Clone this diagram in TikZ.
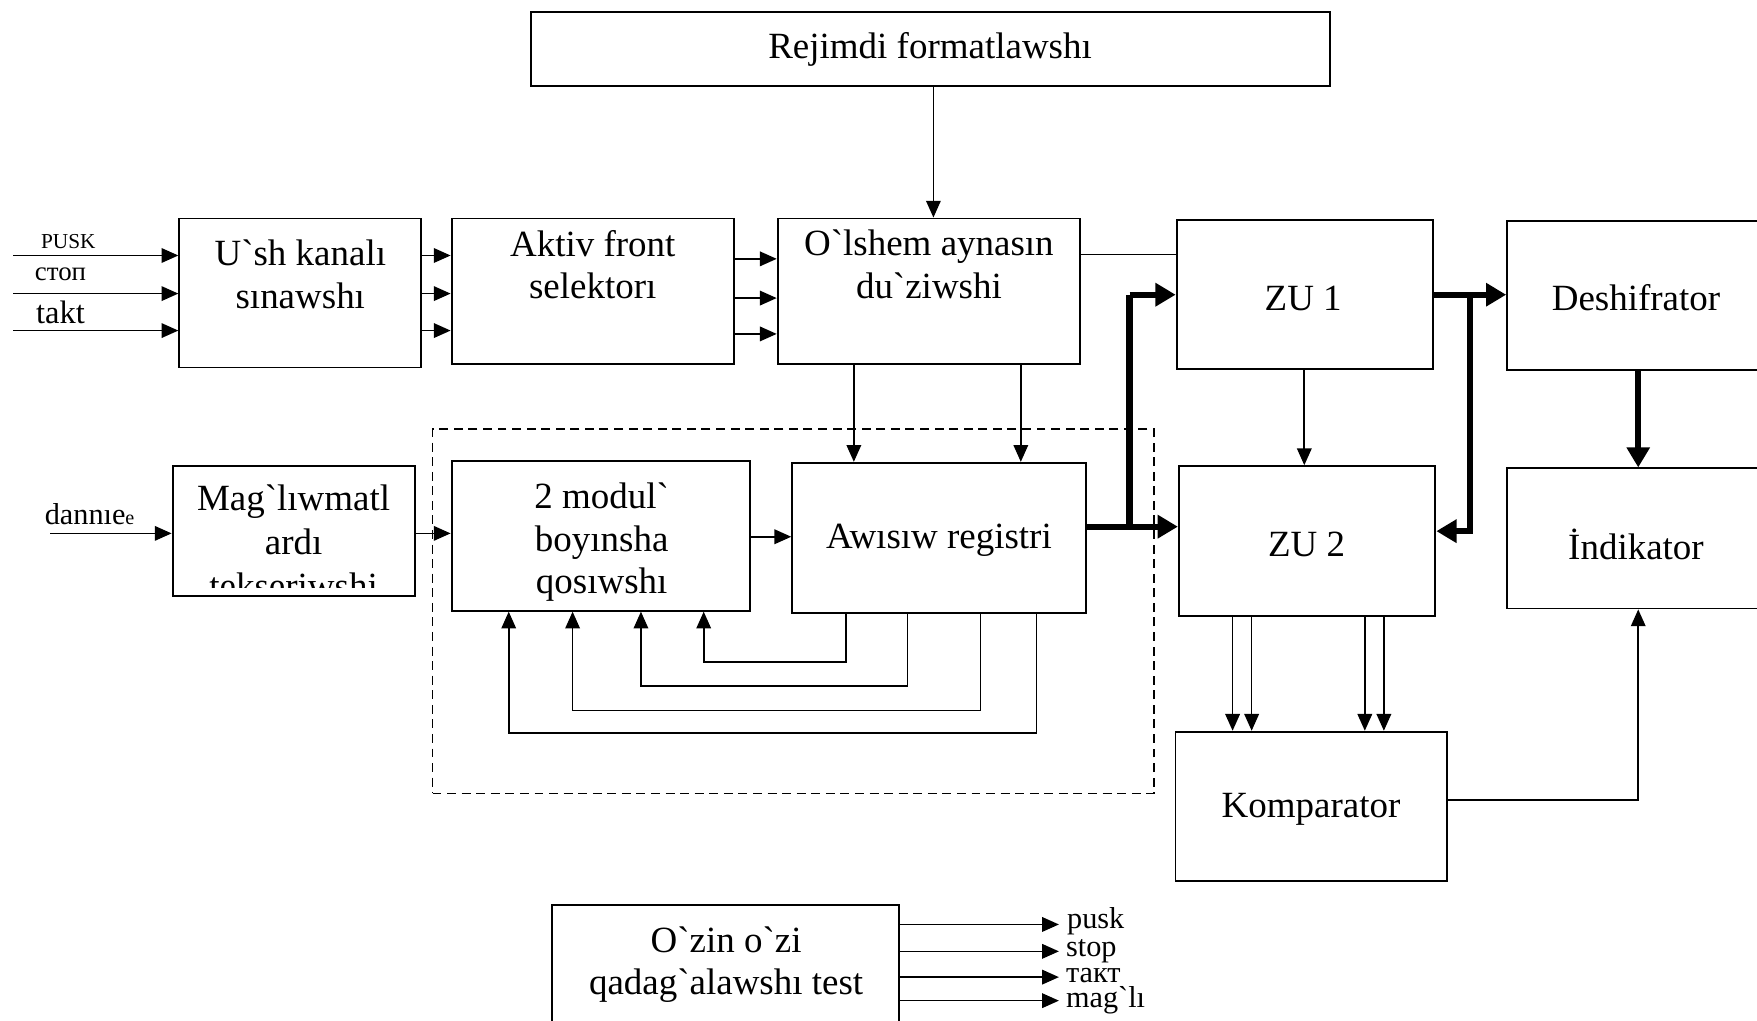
\documentclass[tikz,border=0pt]{standalone}
\usepackage{fontspec}
\setmainfont{Liberation Serif}[Ligatures=TeXOff]
\usetikzlibrary{arrows.meta,fit}

\begin{document}
\begin{tikzpicture}[x=0.5pt,y=-0.5pt,
  box/.style={draw, line width=0.85pt, inner sep=0pt},
  grpbox/.style={draw, line width=0.7pt, dash pattern=on 4pt off 2.5pt, inner sep=0pt},
  txt/.style={align=center, inner sep=0pt, font=\fontsize{16.5}{19}\selectfont},
  ln/.style={line width=0.75pt},
  arr/.style={ln, -{Triangle[length=7.5pt,width=6.5pt]}},
  bus/.style={line width=2.7pt},
  busarr/.style={bus, -{Triangle[length=9pt,width=10pt]}},
  sig/.style={inner sep=0pt, anchor=base west, font=\fontsize{13.5}{13.5}\selectfont}
]
\clip (0,0) rectangle (1568,911);
\fill[white] (0,0) rectangle (1568,911);

% ---- blocks ----
\node[box, fit={(474,11) (1187,77)}] (rej) {};
\node[txt] (rejT) at (830,44) {Rejimdi formatlawshı};

\node[box, fit={(160,195) (376,328)}] (ush) {};
\node[txt] (ushT) at (268,245) {U`sh kanalı\\sınawshı};

\node[box, fit={(403,195) (655,325)}] (akt) {};
\node[txt] (aktT) at (529,236) {Aktiv front\\selektorı};

\node[box, fit={(694,195) (964,325)}] (ols) {};
\node[txt] (olsT) at (829,236) {O`lshem aynasın\\du`ziwshi};

\node[box, fit={(1050,196) (1279,329)}] (zu1) {};
\node[txt] (zu1T) at (1163,266) {ZU 1};

\node[box, fit={(1345,197) (1620,330)}] (desh) {};
\node[txt] (deshT) at (1460,266) {Deshifrator};

\node[grpbox, fit={(386,383) (1030,708)}] (grp) {};

\node[box, fit={(154,416) (370,532)}] (mag) {};
\begin{scope}
  \clip (156,418) rectangle (368,524);
  \node[txt, anchor=base] (magT1) at (262,456) {Mag`lıwmatl};
  \node[txt, anchor=base] (magT2) at (262,495) {ardı};
  \node[txt, anchor=base] (magT3) at (262,534) {tekseriwshi};
\end{scope}

\node[box, fit={(403,411) (669,545)}] (mod) {};
\node[txt] (modT) at (537,484) {2 modul`\\boyınsha\\qosıwshı};

\node[box, fit={(707,413) (969,547)}] (awi) {};
\node[txt] (awiT) at (838,482) {Awısıw registri};

\node[box, fit={(1052,416) (1281,550)}] (zu2) {};
\node[txt] (zu2T) at (1166,486) {ZU 2};

\node[box, fit={(1345,418) (1620,543)}] (ind) {};
\node[txt] (indT) at (1460,486) {İndikator};

\node[box, fit={(1049,653) (1291,786)}] (kom) {};
\node[txt] (komT) at (1170,722) {Komparator};

\node[box, fit={(493,808) (802,960)}] (self) {};
\node[txt] (selfT) at (648,861) {O`zin o`zi\\qadag`alawshı test};

% ---- external inputs ----
\coordinate (in1) at (12,228);
\coordinate (in2) at (12,262);
\coordinate (in3) at (12,295);
\draw[arr] (in1) -- (ush.west |- in1);
\draw[arr] (in2) -- (ush.west |- in2);
\draw[arr] (in3) -- (ush.west |- in3);
\node[inner sep=0pt, font=\fontsize{9.5}{10}\selectfont] (lpusk) at (61,216) {PUSK};
\node[inner sep=0pt, font=\fontsize{12}{12}\selectfont] (lstop) at (54,245) {стоп};
\node[inner sep=0pt, font=\fontsize{14.5}{15}\selectfont] (ltakt) at (54,279) {takt};

\coordinate (ind0) at (45,476);
\draw[arr] (ind0) -- (mag.west |- ind0);
\node[inner sep=0pt, font=\fontsize{13.5}{14}\selectfont] (ldan) at (80,459) {dannıe{\fontsize{9}{9}\selectfont e}};

% ---- upper chain ----
\foreach \y in {228,262,295} \draw[arr] (ush.east |- 0,\y) -- (akt.west |- 0,\y);
\foreach \y in {231,266,298} \draw[arr] (akt.east |- 0,\y) -- (ols.west |- 0,\y);
\draw[arr] (rej.south -| 833,0) -- (ols.north -| 833,0);
\draw[ln] (ols.east |- 0,227) -- (zu1.west |- 0,227);
\draw[arr] (ols.south -| 762,0) -- (awi.north -| 762,0);
\draw[arr] (ols.south -| 911,0) -- (awi.north -| 911,0);

% ---- adder / register ----
\draw[arr] (mag.east |- 0,476) -- (mod.west |- 0,476);
\draw[arr] (mod.east |- 0,479) -- (awi.west |- 0,479);
\draw[arr] (awi.south -| 755,0) |- (628,591) -- (mod.south -| 628,0);
\draw[arr] (awi.south -| 810,0) |- (572,612) -- (mod.south -| 572,0);
\draw[arr] (awi.south -| 875,0) |- (511,634) -- (mod.south -| 511,0);
\draw[arr] (awi.south -| 925,0) |- (454,654) -- (mod.south -| 454,0);

% ---- buses ----
\coordinate (j1) at (1008,470);
\coordinate (j2) at (1312,263);
\draw[busarr] (awi.east |- j1) -- (zu2.west |- j1);
\draw[bus] (j1) -- (1008,263);
\draw[busarr] (1008,263) -- (zu1.west |- j2);
\draw[busarr] (zu1.east |- j2) -- (desh.west |- j2);
\draw[busarr] (j2) |- (zu2.east |- 0,474);
\draw[busarr] (desh.south -| 1462,0) -- (ind.north -| 1462,0);

% ---- memory / comparator ----
\draw[arr] (zu1.south -| 1164,0) -- (zu2.north -| 1164,0);
\foreach \x in {1100,1117,1218,1235} \draw[arr] (zu2.south -| \x,0) -- (kom.north -| \x,0);
\draw[arr] (kom.east |- 0,714) -| (ind.south -| 1462,0);

% ---- self test outputs ----
\coordinate (o1) at (945,825);
\coordinate (o2) at (945,849);
\coordinate (o3) at (945,872);
\coordinate (o4) at (945,893);
\draw[arr] (self.east |- o1) -- (o1);
\draw[arr] (self.east |- o2) -- (o2);
\draw[arr] (self.east |- o3) -- (o3);
\draw[arr] (self.east |- o4) -- (o4);
\node[sig] (lo1) at (952,829) {pusk};
\node[sig] (lo2) at (951,854) {stop};
\node[sig] (lo3) at (951,877) {такт};
\node[sig] (lo4) at (951,899) {mag`lı};
\end{tikzpicture}
\end{document}
